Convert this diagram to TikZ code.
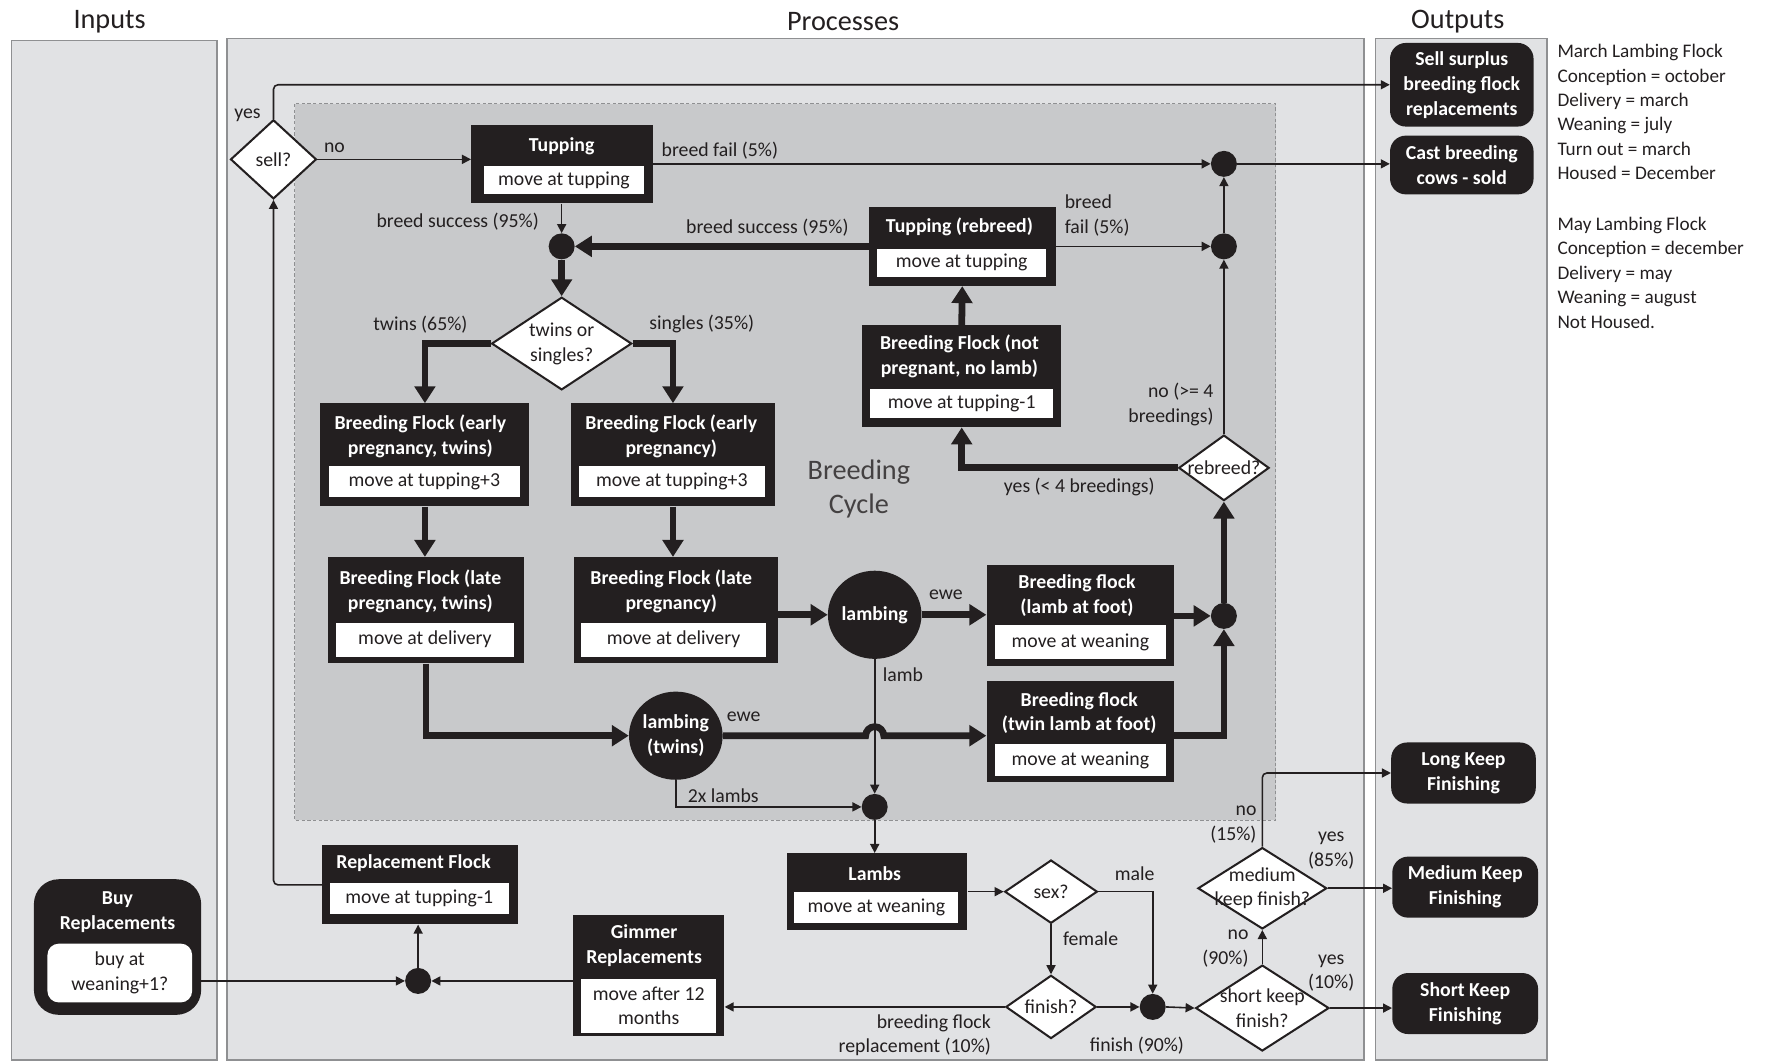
\documentclass[tikz,border=0pt]{standalone}
\usepackage{fontspec}
\setmainfont{Carlito}
\usetikzlibrary{arrows.meta,shapes.geometric,calc}

\definecolor{ink}{HTML}{231F20}
\definecolor{panel}{HTML}{E1E2E4}
\definecolor{panelline}{HTML}{8F9092}
\definecolor{cyclefill}{HTML}{C8C9CB}

\tikzset{
  txt/.style={font=\fontsize{17.5}{22}\selectfont, text=ink, inner sep=0pt, align=center},
  ttl/.style={font=\fontsize{17.5}{22}\selectfont\bfseries, text=white, inner sep=0pt, align=center},
  headtxt/.style={font=\fontsize{25}{30}\selectfont, text=ink, inner sep=0pt, align=center},
  panelbox/.style={fill=panel, draw=panelline, line width=1.3pt},
  outerbox/.style={rectangle, fill=ink, draw=none, inner sep=0pt},
  innerbox/.style={rectangle, fill=white, draw=none, inner sep=0pt, font=\fontsize{17.5}{22}\selectfont, text=ink, align=center},
  outbox/.style={rectangle, fill=ink, rounded corners=14pt, inner sep=0pt, font=\fontsize{17.5}{22}\selectfont\bfseries, text=white, align=center},
  dia/.style={diamond, fill=white, draw=ink, line width=1.8pt, inner sep=0pt},
  jdot/.style={circle, fill=ink, minimum size=23pt, inner sep=0pt},
  event/.style={ellipse, fill=ink, inner sep=0pt, font=\fontsize{17.5}{22}\selectfont\bfseries, text=white, align=center},
  fline/.style={draw=ink, line width=1.4pt, -{Triangle[length=8pt,width=8pt]}},
  bline/.style={draw=ink, line width=6pt, -{Triangle[length=15pt,width=18pt]}},
}

\begin{document}
\begin{tikzpicture}[x=1pt,y=-1pt]
\useasboundingbox (0,0) rectangle (1568,940);

% ---------- swim lanes ----------
\draw[panelbox] (10,36) rectangle (192,938);
\draw[panelbox] (201,34) rectangle (1207,938);
\draw[panelbox] (1217,34) rectangle (1369,938);
\node[headtxt] at (97,19) {Inputs};
\node[headtxt] at (746,19) {Processes};
\node[headtxt] at (1290,19) {Outputs};

% breeding cycle area
\draw[fill=cyclefill, draw=panelline, line width=0.9pt, dash pattern=on 3pt off 2pt] (261,92) rectangle (1129,726);
\node[headtxt, text=ink!85] at (760,433) {Breeding\\Cycle};

% ---------- notes ----------
\node[txt, align=left, anchor=north west, font=\fontsize{17}{21.6}\selectfont] (notesA) at (1378,39)
  {March Lambing Flock\\Conception = october\\Delivery = march\\Weaning = july\\Turn out = march\\Housed = December};
\node[txt, align=left, anchor=north west, font=\fontsize{17}{21.6}\selectfont] (notesB) at (1378,192)
  {May Lambing Flock\\Conception = december\\Delivery = may\\Weaning = august\\Not Housed.};

% ---------- process boxes ----------
\node[outerbox, minimum width=161pt, minimum height=69pt] (tup) at (497.5,145.5) {};
\node[ttl] at (497,129) {Tupping};
\node[innerbox, minimum width=142pt, minimum height=25pt] at (499,159.5) {move at tupping};

\node[outerbox, minimum width=165pt, minimum height=70pt] (retup) at (851.5,218) {};
\node[ttl] at (849,201) {Tupping (rebreed)};
\node[innerbox, minimum width=150pt, minimum height=25pt] at (851,232.5) {move at tupping};

\node[outerbox, minimum width=176pt, minimum height=90pt] (notpreg) at (851,333) {};
\node[ttl] at (849,315) {Breeding Flock (not\\pregnant, no lamb)};
\node[innerbox, minimum width=162pt, minimum height=26pt] at (851,357) {move at tupping-1};

\node[outerbox, minimum width=185pt, minimum height=91pt] (earlytw) at (376,402.5) {};
\node[ttl] at (372,386) {Breeding Flock (early\\pregnancy, twins)};
\node[innerbox, minimum width=169pt, minimum height=28pt] at (375.5,426) {move at tupping+3};

\node[outerbox, minimum width=181pt, minimum height=91pt] (earlysg) at (595.5,402.5) {};
\node[ttl] at (594,386) {Breeding Flock (early\\pregnancy)};
\node[innerbox, minimum width=165pt, minimum height=28pt] at (594.5,426) {move at tupping+3};

\node[outerbox, minimum width=174pt, minimum height=94pt] (latetw) at (377,540) {};
\node[ttl] at (372,523) {Breeding Flock (late\\pregnancy, twins)};
\node[innerbox, minimum width=158pt, minimum height=30pt] at (376,566) {move at delivery};

\node[outerbox, minimum width=180pt, minimum height=94pt] (latesg) at (598,540) {};
\node[ttl] at (594,523) {Breeding Flock (late\\pregnancy)};
\node[innerbox, minimum width=164pt, minimum height=30pt] at (596,566) {move at delivery};

\node[outerbox, minimum width=166pt, minimum height=89pt] (footA) at (956,544.5) {};
\node[ttl] at (953,527) {Breeding flock\\(lamb at foot)};
\node[innerbox, minimum width=152pt, minimum height=30pt] at (956,568) {move at weaning};

\node[outerbox, minimum width=166pt, minimum height=89pt] (footB) at (956,647.5) {};
\node[ttl] at (955,631) {Breeding flock\\(twin lamb at foot)};
\node[innerbox, minimum width=152pt, minimum height=29pt] at (956,672.5) {move at weaning};

\node[outerbox, minimum width=160pt, minimum height=68pt] (lambs) at (776,789) {};
\node[ttl] at (774,773) {Lambs};
\node[innerbox, minimum width=145pt, minimum height=28pt] at (775.5,803) {move at weaning};

\node[outerbox, minimum width=173pt, minimum height=70pt] (repl) at (371.5,783) {};
\node[ttl] at (366,764) {Replacement Flock};
\node[innerbox, minimum width=158pt, minimum height=28pt] at (371,795) {move at tupping-1};

\node[outerbox, minimum width=134pt, minimum height=107pt] (gim) at (574,863.5) {};
\node[ttl] at (570,837) {Gimmer\\Replacements};
\node[innerbox, minimum width=120pt, minimum height=48pt] at (574,890) {move after 12\\months};

% lambing events
\node[event, minimum width=76pt, minimum height=78pt] (lamb1) at (774,544) {lambing};
\node[event, minimum width=74pt, minimum height=78pt] (lamb2) at (598,651) {lambing\\(twins)};

% input
\node[outbox, rounded corners=22pt, minimum width=148pt, minimum height=120pt] (buy) at (104,838) {};
\node[ttl] at (104,807) {Buy\\Replacements};
\node[innerbox, rounded corners=10pt, minimum width=128pt, minimum height=52pt] at (106,861) {buy at\\weaning+1?};

% outputs
\node[outbox, minimum width=127pt, minimum height=74pt] (sellout) at (1293.5,75) {Sell surplus\\breeding flock\\replacements};
\node[outbox, minimum width=127pt, minimum height=52pt] (castout) at (1293.5,146) {Cast breeding\\cows - sold};
\node[outbox, minimum width=128pt, minimum height=54pt] (longout) at (1295,684) {Long Keep\\Finishing};
\node[outbox, minimum width=129pt, minimum height=54pt] (medout) at (1296.5,785) {Medium Keep\\Finishing};
\node[outbox, minimum width=129pt, minimum height=54pt] (shortout) at (1296.5,888) {Short Keep\\Finishing};

% ---------- decisions ----------
\node[dia, minimum width=76pt, minimum height=70pt] (selld) at (242,141) {};
\node[txt] at (selld) {sell?};
\node[dia, minimum width=124pt, minimum height=82pt] (tsd) at (497,304) {};
\node[txt] at (tsd) {twins or\\singles?};
\node[dia, minimum width=80pt, minimum height=58pt] (rebd) at (1083,414) {};
\node[txt] at (rebd) {rebreed?};
\node[dia, minimum width=82pt, minimum height=56pt] (sexd) at (930,789) {};
\node[txt] at (sexd) {sex?};
\node[dia, minimum width=80pt, minimum height=56pt] (finishd) at (930,891) {};
\node[txt] at (finishd) {finish?};
\node[dia, minimum width=114pt, minimum height=72pt] (medd) at (1117,786) {};
\node[txt] at (medd) {medium\\keep finish?};
\node[dia, minimum width=118pt, minimum height=76pt] (shortd) at (1117,892) {};
\node[txt] at (shortd) {short keep\\finish?};

% ---------- junctions ----------
\node[jdot] (j1) at (497,218) {};
\node[jdot] (j2) at (1083,145) {};
\node[jdot] (j3) at (1083,218) {};
\node[jdot] (j4) at (1083,545) {};
\node[jdot] (j5) at (774,714) {};
\node[jdot] (j6) at (370,868) {};
\node[jdot] (j7) at (1020,891) {};

% ---------- connectors ----------
\draw[fline, rounded corners=4pt] (selld.north) |- (sellout.west);
\draw[fline] (selld.east) -- (selld.east -| tup.west);
\draw[fline, rounded corners=4pt] (repl.west) -| (selld.south);
\draw[fline] (tup.south -| j1) -- (j1.north);
\draw[fline] (tup.east |- j2) -- (j2.west);
\draw[fline] (j2.east) -- (j2.east -| castout.west);
\draw[bline] (retup.west |- j1) -- (j1.east);
\draw[fline] (retup.east |- j3) -- (j3.west);
\draw[fline] (j3.north) -- (j2.south);
\draw[bline] (j1.south) -- (tsd.north);
\draw[bline] (tsd.west) -| (earlytw.north);
\draw[bline] (tsd.east) -| (earlysg.north);
\draw[bline] (earlytw.south) -- (earlytw.south |- latetw.north);
\draw[bline] (earlysg.south) -- (earlysg.south |- latesg.north);
\draw[bline] (latesg.east |- lamb1) -- (lamb1.west);
\draw[bline] (lamb1.east) -- (lamb1.east -| footA.west);
\draw[bline] (footA.east |- j4) -- (j4.west);
\draw[bline] (latetw.south) |- (lamb2.west);
\draw[fline] (lamb1.south) -- (j5.north);
\draw[bline] (lamb2.east) -- ($(lamb1.south |- lamb2.east)+(-8pt,0)$)
  arc[start angle=180, end angle=0, radius=8pt] -- (lamb2.east -| footB.west);
\draw[bline] (lamb2.east -| footB.east) -| (j4.south);
\draw[bline] (j4.north) -- (rebd.south);
\draw[bline] (rebd.west) -| (notpreg.south);
\draw[fline] (rebd.north) -- (j3.south);
\draw[bline] (notpreg.north) -- (retup.south);
\draw[fline] (lamb2.south) |- (j5.west);
\draw[fline] (j5.south) -- (j5.south |- lambs.north);
\draw[fline] (lambs.east |- sexd) -- (sexd.west);
\draw[fline] (sexd.east) -| (j7.north);
\draw[fline] (sexd.south) -- (finishd.north);
\draw[fline] (finishd.west) -- (finishd.west -| gim.east);
\draw[fline] (finishd.east) -- (j7.west);
\draw[fline] (j7.east) -- (shortd.west);
\draw[fline] (shortd.east) -- (shortd.east -| shortout.west);
\draw[fline] (shortd.north) -- (medd.south);
\draw[fline] (medd.east) -- (medd.east -| medout.west);
\draw[fline, rounded corners=4pt] (medd.north) |- (longout.west);
\draw[fline] (buy.east |- j6) -- (j6.west);
\draw[fline] (gim.west |- j6) -- (j6.east);
\draw[fline] (j6.north) -- (j6.north |- repl.south);

% ---------- connector labels ----------
\node[txt] at (219,102) {yes};
\node[txt] at (296,131) {no};
\node[txt] at (405,196) {breed success (95\%)};
\node[txt] at (637,133) {breed fail (5\%)};
\node[txt] at (679,201) {breed success (95\%)};
\node[txt, align=left, anchor=west] at (942,191) {breed\\fail (5\%)};
\node[txt] at (372,287) {twins (65\%)};
\node[txt] at (621,287) {singles (35\%)};
\node[txt, align=right, anchor=east] at (1074,358) {no (>= 4\\breedings)};
\node[txt] at (955,431) {yes (< 4 breedings)};
\node[txt] at (837,526) {ewe};
\node[txt] at (658,634) {ewe};
\node[txt] at (799,597) {lamb};
\node[txt] at (640,704) {2x lambs};
\node[txt] at (1004,773) {male};
\node[txt] at (965,831) {female};
\node[txt, align=right, anchor=east] at (877,916) {breeding flock\\replacement (10\%)};
\node[txt] at (1006,925) {finish (90\%)};
\node[txt, align=right, anchor=east] at (1112,730) {no\\(15\%)};
\node[txt] at (1178,753) {yes\\(85\%)};
\node[txt, align=right, anchor=east] at (1105,839) {no\\(90\%)};
\node[txt] at (1178,861) {yes\\(10\%)};
\end{tikzpicture}
\end{document}
